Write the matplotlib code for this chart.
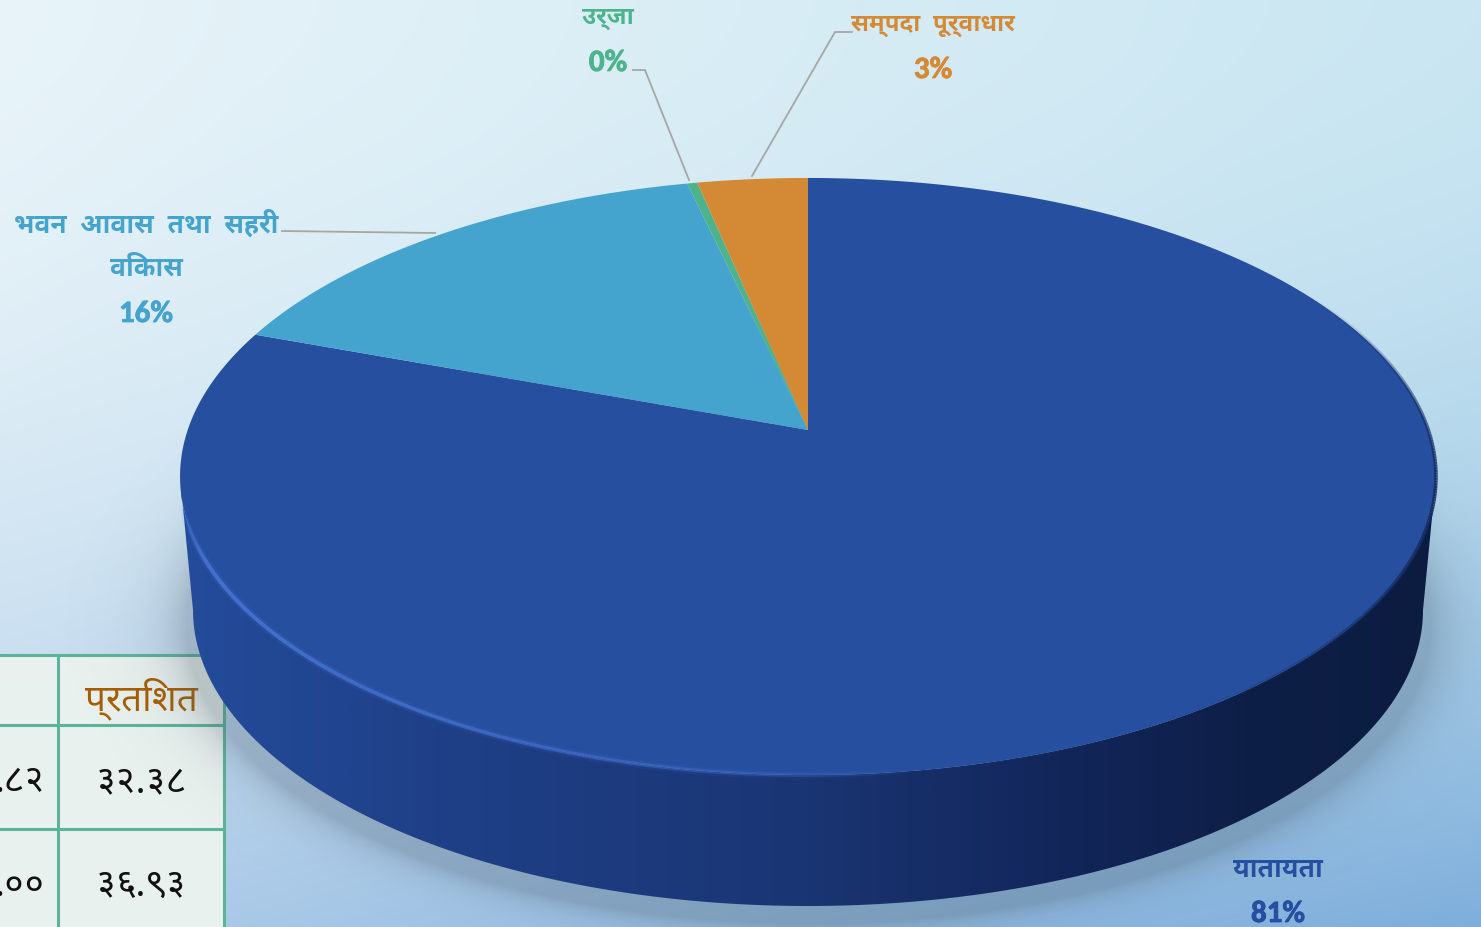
import numpy as np
import matplotlib
matplotlib.use('Agg')
import matplotlib.pyplot as plt
import matplotlib.patheffects as pe
from matplotlib.colors import LinearSegmentedColormap, to_rgb
from matplotlib.patches import Polygon, Rectangle
from matplotlib.collections import LineCollection

# pie data, clockwise from the top
categories = ['यातायता', 'भवन आवास तथा सहरी\nविकास', 'उर्जा', 'सम्पदा पूर्वाधार']
values = [80.6, 15.8, 0.3, 3.3]
percents = ['81%', '16%', '0%', '3%']
colors = ['#264f9f', '#45a4cd', '#4db38c', '#d48a34']

# table corner
table_header = 'प्रतिशत'
table_col1 = ['.८२', '.००']
table_col2 = ['३२.३८', '३६.९३']

W, H = 1481, 927
hindi = ['Noto Sans Devanagari UI', 'Noto Sans Devanagari', 'DejaVu Sans']
latin = ['Carlito', 'Lato', 'DejaVu Sans']

fig = plt.figure(figsize=(W/100, H/100), dpi=100)
ax = fig.add_axes([0, 0, 1, 1])
ax.set_xlim(0, W)
ax.set_ylim(H, 0)
ax.axis('off')

# background gradient
rows = np.linspace(0, 1, H)[:, None]
cols = np.linspace(0, 1, W)[None, :]
tl, tr = np.array(to_rgb('#e8f4f9')), np.array(to_rgb('#c9e6f2'))
bl, br = np.array(to_rgb('#b0cde9')), np.array(to_rgb('#7eaedb'))
r2 = rows**1.8
bg = np.zeros((H, W, 3))
for i in range(3):
    bg[:, :, i] = (tl[i]*(1-cols) + tr[i]*cols)*(1-r2) + (bl[i]*(1-cols) + br[i]*cols)*r2
ax.imshow(bg, extent=(0, W, H, 0), aspect='auto', zorder=0)

# table corner
line_col = '#5bb498'
ax.add_patch(Rectangle((0, 655), 224, H-655, fc='#e9f1ee', ec='none', zorder=1))
ax.plot([0, 224], [655, 655], color=line_col, lw=2.2, zorder=2)
ax.plot([0, 224], [725, 725], color=line_col, lw=2.2, zorder=2)
ax.plot([0, 224], [829, 829], color=line_col, lw=2.2, zorder=2)
ax.plot([58, 58], [655, H], color=line_col, lw=2.2, zorder=2)
ax.plot([224, 224], [655, H], color=line_col, lw=2.2, zorder=2)
ax.text(141, 699, table_header, color='#a65e00', fontsize=26.5, ha='center', va='center',
        family=hindi, zorder=2)
for y, a, b in zip([782, 886], table_col1, table_col2):
    ax.text(45, y, a, color='#111111', fontsize=26.5, ha='right', va='center', family=hindi, zorder=2)
    ax.text(141, y, b, color='#111111', fontsize=26.5, ha='center', va='center', family=hindi, zorder=2)

# perspective of the pie top: the circle centre lands on the apex
cx, cy = 808, 430
k, c, s = 291.3, -0.1558, 620.3


def top_xy(theta):
    u, v = np.sin(theta), -np.cos(theta)
    return cx + s*u/(1 + c*v), cy + k*v/(1 + c*v)


# lower ellipse of the side wall
bx, by, ba, bb = 808, 610, 615, 296

# soft shadow below the pie
yy, xx = np.mgrid[0:H, 0:W]
d = np.sqrt(((xx-808)/622.0)**2 + ((yy-625)/298.0)**2)
shade = 0.3*np.exp(-np.clip(d-1, 0, None)/0.045)
rgba = np.zeros((H, W, 4))
rgba[:, :, :3] = to_rgb('#46586a')
rgba[:, :, 3] = shade
ax.imshow(rgba, extent=(0, W, H, 0), aspect='auto', zorder=3)

# side wall with horizontal gradient
t = np.linspace(np.radians(99), np.radians(261), 300)
x_top, y_top = top_xy(t)
phi = np.linspace(np.radians(270), np.radians(90), 300)
x_bot = bx + ba*np.sin(phi)
y_bot = by - bb*np.cos(phi)
wall = np.column_stack([np.r_[x_top, x_bot], np.r_[y_top, y_bot]])
wall_cmap = LinearSegmentedColormap.from_list('wall', [(0, '#244c9a'), (0.2, '#1f4088'), (0.5, '#1a3573'),
                                                       (0.7, '#12265a'), (0.85, '#0e1f47'), (1, '#0c1c40')])
im = ax.imshow(np.linspace(0, 1, 512)[None, :], extent=(181, 1436, H, 0), aspect='auto',
               cmap=wall_cmap, zorder=4)
clip = Polygon(wall, closed=True, transform=ax.transData, fc='none', ec='none')
ax.add_patch(clip)
im.set_clip_path(clip)

# top of the pie, wedges built from the values
start = 0.0
for val, col in zip(values, colors):
    a = np.linspace(start, start + val/100*2*np.pi, 400)
    px, py = top_xy(a)
    ax.fill(np.r_[cx, px], np.r_[cy, py], color=col, lw=0, zorder=5)
    start += val/100*2*np.pi


def rim(a0, a1, col, width, alpha):
    # edge line along the top face, alpha given along its length
    a = np.radians(np.linspace(a0, a1, 300))
    px, py = top_xy(a)
    pts = np.column_stack([px, py]).reshape(-1, 1, 2)
    segs = np.concatenate([pts[:-1], pts[1:]], axis=1)
    rc = np.zeros((len(segs), 4))
    rc[:, :3] = to_rgb(col)
    rc[:, 3] = alpha(np.linspace(0, 1, len(segs)))
    ax.add_collection(LineCollection(segs, colors=rc, linewidths=width, zorder=6))


# light rim on the front left, dark rim on the right
rim(256, 172, '#3f6dcc', 6, lambda q: 0.25*np.clip(6*q, 0, 1)*(1-q)**0.6)
rim(256, 172, '#4673d2', 2.8, lambda q: np.clip(8*q, 0, 1)*np.clip(1.1*(1-q)**0.6, 0, 1))
rim(60, 150, '#142a60', 2.6, lambda q: 0.9*np.sin(np.pi*q)**1.5)

# leader lines
lead = '#a6a6a6'
ax.plot([282, 435], [231, 233], color=lead, lw=1.3, zorder=7)
ax.plot([633, 645, 689], [70, 70, 180], color=lead, lw=1.3, zorder=7)
ax.plot([852, 835, 752], [32, 32, 176], color=lead, lw=1.3, zorder=7)

# data labels, words spaced wide as in the reference
label_sizes = [19, 19, 17.5, 17.5]
label_pos = [(1278, [870], 914), (146, [225, 269], 314), (608, [18], 63), (933, [25], 70)]
for cat, pct, col, fs, (x, ys, yp) in zip(categories, percents, colors, label_sizes, label_pos):
    for line, y in zip(cat.split('\n'), ys):
        ax.text(x, y, line.replace(' ', '  '), color=col, fontsize=fs, fontweight='bold', ha='center',
                va='center', family=hindi, zorder=8)
    ax.text(x, yp, pct, color=col, fontsize=22.3, fontweight='bold', ha='center', va='center',
            family=latin, zorder=8, path_effects=[pe.withStroke(linewidth=0.6, foreground=col)])

fig.savefig('out.png', dpi=100)
